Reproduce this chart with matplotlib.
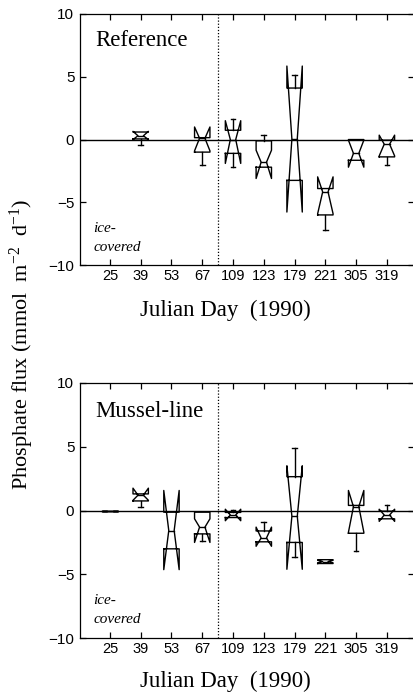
import numpy as np
import matplotlib
matplotlib.use('Agg')
import matplotlib.pyplot as plt

nan = np.nan

# Julian days (categories)
days = ['25', '39', '53', '67', '109', '123', '179', '221', '305', '319']

# Reference site: notched box stats
ref_med  = [nan, 0.30, nan, 0.10, 0.00, -1.80, 0.05, -4.17, -1.10, -0.37]
ref_q1   = [nan, 0.05, nan, -1.00, -1.10, -2.20, -3.25, -6.00, -1.65, -1.38]
ref_q3   = [nan, 0.60, nan, 0.15, 0.74, -0.10, 4.10, -3.90, 0.00, -0.05]
ref_cilo = [nan, 0.00, nan, -0.90, -1.90, -3.10, -5.77, -5.90, -2.20, -1.30]
ref_cihi = [nan, 0.65, nan, 1.00, 1.50, -0.85, 5.85, -2.97, -0.05, 0.35]
ref_wlo  = [nan, -0.45, nan, -2.00, -2.20, -2.20, -3.25, -7.20, -1.65, -2.00]
ref_whi  = [nan, 0.60, nan, 0.15, 1.60, 0.34, 5.10, -3.90, 0.00, -0.05]

# Mussel-line site
mus_med  = [0.00, 1.20, -1.57, -1.30, -0.35, -2.15, -0.45, -4.00, 0.30, -0.35]
mus_q1   = [0.00, 0.75, -3.00, -1.83, -0.55, -2.45, -2.50, -4.15, -1.78, -0.65]
mus_q3   = [0.00, 1.30, -0.13, -0.13, -0.15, -1.60, 2.65, -3.85, 0.40, -0.05]
mus_cilo = [0.00, 0.80, -4.63, -2.50, -0.80, -2.80, -4.60, -4.10, -1.70, -0.85]
mus_cihi = [0.00, 1.75, 1.57, -0.65, 0.10, -1.30, 3.50, -3.90, 1.57, 0.10]
mus_wlo  = [0.00, 0.25, -3.00, -2.35, -0.55, -2.45, -3.65, -4.15, -3.15, -0.65]
mus_whi  = [0.00, 1.30, -0.13, -0.13, 0.05, -0.90, 4.90, -3.85, 0.40, 0.40]

serif = 'Liberation Serif'
sans = ['Liberation Sans Narrow', 'Liberation Sans']
plt.rcParams['mathtext.fontset'] = 'custom'
plt.rcParams['mathtext.rm'] = serif

BOXW = 0.5     # box width in category units
WAIST = 0.35   # notch waist as fraction of box width
CAPW = 0.15


def drawNotchBox(ax, x, med, q1, q3, cilo, cihi, wlo, whi):
    # notched box the old way: notches may fold back past the quartiles
    l, r = x - BOXW / 2, x + BOXW / 2
    cl, cr = x - BOXW * WAIST / 2, x + BOXW * WAIST / 2
    xs = [l, l, cl, l, l, r, r, cr, r, r, l]
    ys = [q1, cilo, med, cihi, q3, q3, cihi, med, cilo, q1, q1]
    ax.plot(xs, ys, color='black', linewidth=1.0, zorder=3)
    ax.plot([cl, cr], [med, med], color='black', linewidth=1.0, zorder=3)
    if wlo < q1:
        ax.plot([x, x], [q1, wlo], color='black', linewidth=1.0, zorder=3)
        ax.plot([x - CAPW / 2, x + CAPW / 2], [wlo, wlo], color='black', linewidth=1.0, zorder=3)
    if whi > q3:
        ax.plot([x, x], [q3, whi], color='black', linewidth=1.0, zorder=3)
        ax.plot([x - CAPW / 2, x + CAPW / 2], [whi, whi], color='black', linewidth=1.0, zorder=3)


def drawPanel(ax, med, q1, q3, cilo, cihi, wlo, whi, title, ty, ly):
    ax.axhline(0, color='black', linewidth=1.0, zorder=1)
    for i in range(len(days)):
        if np.isnan(med[i]):
            continue
        drawNotchBox(ax, i + 1, med[i], q1[i], q3[i], cilo[i], cihi[i], wlo[i], whi[i])
    ax.axvline(4.51, color='black', linewidth=0.9, linestyle=(0, (1, 1.5)))
    ax.set_xlim(0.025, 10.88)
    ax.set_ylim(-10, 10)
    ax.set_yticks([-10, -5, 0, 5, 10])
    ax.set_xticks(range(1, len(days) + 1))
    ax.set_xticklabels(days)
    ax.tick_params(direction='in', length=4, width=0.9, top=True, right=True)
    ax.tick_params(axis='y', labelsize=11, pad=4)
    ax.tick_params(axis='x', labelsize=10.5, pad=3)
    for lab in ax.get_xticklabels() + ax.get_yticklabels():
        lab.set_family(sans)
    ax.spines['right'].set_visible(False)
    for s in ['left', 'top', 'bottom']:
        ax.spines[s].set_linewidth(0.9)
    ax.set_xlabel('Julian Day  (1990)', family=serif, fontsize=16.5)
    ax.xaxis.set_label_coords(0.434, ly, transform=ax.transAxes)
    ax.xaxis.label.set_va('center')
    ax.text(0.045, ty, title, transform=ax.transAxes, family=serif,
            fontsize=16.5, va='center', ha='left')
    ax.text(0.04, 0.147, 'ice-', transform=ax.transAxes, family=serif,
            style='italic', fontsize=11, va='center', ha='left')
    ax.text(0.04, 0.072, 'covered', transform=ax.transAxes, family=serif,
            style='italic', fontsize=11, va='center', ha='left')


fig = plt.figure(figsize=(4.14, 6.96), dpi=100)
ax1 = fig.add_axes([0.193, 0.619, 0.807, 0.361])
ax2 = fig.add_axes([0.193, 0.083, 0.807, 0.367])

drawPanel(ax1, ref_med, ref_q1, ref_q3, ref_cilo, ref_cihi, ref_wlo, ref_whi, 'Reference', 0.895, -0.18)
drawPanel(ax2, mus_med, mus_q1, mus_q3, mus_cilo, mus_cihi, mus_wlo, mus_whi, 'Mussel-line', 0.886, -0.17)

fig.text(0.053, 0.505, r'Phosphate flux (mmol  m$\mathregular{^{-2}}$  d$\mathregular{^{-1}}$)',
         rotation=90, family=serif, fontsize=16, ha='center', va='center')

fig.savefig('out.png', dpi=100)
